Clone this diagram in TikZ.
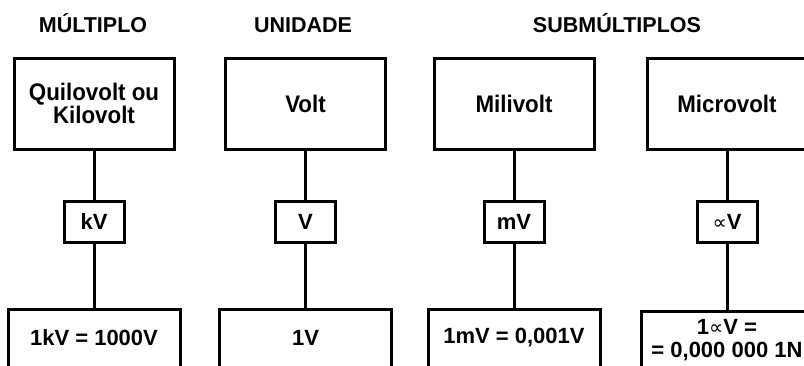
\documentclass[tikz,border=0pt]{standalone}
\usepackage{fontspec}
\setmainfont{Liberation Sans}
\newfontfamily\narrowfont[FakeStretch=0.93]{Liberation Sans}
\newfontfamily\symfont{DejaVu Sans}
\newcommand{\prop}{{\symfont\mdseries\fontsize{20}{20}\selectfont ∝}}
\begin{document}
\begin{tikzpicture}[x=1pt,y=-1pt,
  txt/.style={font=\fontsize{22}{23}\selectfont\bfseries, align=center},
  box/.style={txt, draw, line width=3pt, inner sep=0pt},
  bigbox/.style={box, minimum width=160pt, minimum height=91pt,
    font=\narrowfont\fontsize{24}{23}\selectfont\bfseries},
  unitbox/.style={box, minimum width=60pt, minimum height=41pt},
  valbox/.style={box, minimum width=172pt, minimum height=58pt},
  header/.style={txt, anchor=base, font=\fontsize{21.5}{23}\selectfont\bfseries},
  link/.style={line width=3pt}]
\useasboundingbox (0,0) rectangle (804,365);
\clip (0,0) rectangle (804,365);
% headers
\node[header] (h1) at (93,32) {MÚLTIPLO};
\node[header] (h2) at (303,32) {UNIDADE};
\node[header] (h3) at (617,32) {SUBMÚLTIPLOS};
% top boxes
\node[bigbox] (t1) at (94,103.5) {Quilovolt ou\\Kilovolt};
\node[bigbox] (t2) at (305.5,103.5) {Volt};
\node[bigbox] (t3) at (514,103.5) {Milivolt};
\node[bigbox] (t4) at (727,103.5) {Microvolt};
% unit boxes
\node[unitbox] (u1) at (94,221.5) {kV};
\node[unitbox] (u2) at (305.5,221.5) {V};
\node[unitbox] (u3) at (514,221.5) {mV};
\node[unitbox] (u4) at (727,221.5) {\prop V};
% value boxes
\node[valbox] (b1) at (94,338) {1kV = 1000V};
\node[valbox] (b2) at (305.5,338) {1V};
\node[valbox] (b3) at (514,338) {1mV = 0,001V};
\node[valbox] (b4) at (727,340) {1\prop V =\\= 0,000 000 1N};
% connectors
\foreach \i in {1,2,3,4}{
  \draw[link] (t\i) -- (u\i);
  \draw[link] (u\i) -- (b\i);
}
\end{tikzpicture}
\end{document}
